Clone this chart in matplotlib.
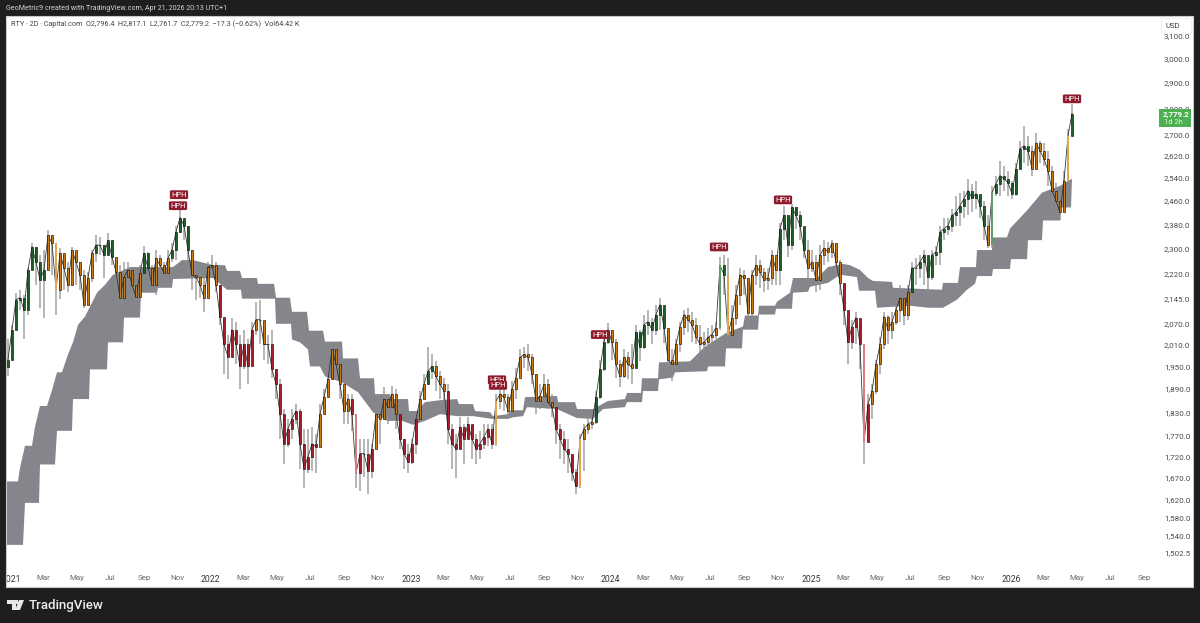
import matplotlib
matplotlib.use("Agg")
import matplotlib.pyplot as plt
from matplotlib.patches import Rectangle, FancyBboxPatch, Polygon
from matplotlib.ticker import NullLocator
import numpy as np
import pandas as pd

# one bar every 7.3 days or so
closes = [1970,2054,2142,2148,2112,2233,2306,2258,2202,2233,
          2344,2318,2172,2286,2239,2187,2296,2258,2218,2127,
          2208,2286,2312,2312,2280,2328,2274,2227,2148,2211,
          2233,2187,2151,2224,2286,2239,2187,2270,2248,2224,
          2270,2296,2354,2403,2376,2296,2218,2211,2187,2148,
          2242,2248,2187,2092,2012,1978,2054,2012,1951,2012,
          1951,2054,2083,2083,2012,2012,1943,1903,1825,1751,
          1788,1813,1833,1751,1691,1720,1751,1744,1825,1869,
          1916,1998,1957,1903,1833,1864,1825,1680,1727,1727,
          1686,1739,1825,1813,1864,1843,1877,1825,1763,1727,
          1708,1751,1813,1864,1903,1938,1951,1924,1903,1885,
          1788,1751,1739,1793,1763,1800,1763,1739,1751,1768,
          1788,1751,1859,1877,1869,1833,1890,1921,1976,1984,
          1976,1930,1859,1872,1903,1856,1843,1788,1763,1739,
          1727,1684,1650,1763,1788,1800,1805,1869,1943,2020,
          2054,2018,1957,1924,1976,1957,1948,2048,2006,2068,
          2077,2054,2098,2127,2060,1970,1957,2012,2063,2098,
          2083,2068,2034,2012,2018,2032,2040,2060,2248,2218,
          2040,2089,2157,2218,2208,2103,2218,2248,2227,2202,
          2208,2280,2233,2366,2410,2312,2437,2410,2376,2296,
          2239,2258,2202,2280,2302,2290,2318,2258,2193,2112,
          2018,2063,2089,2012,1756,1851,1885,1957,2012,2092,
          2054,2077,2112,2148,2098,2166,2239,2239,2258,2280,
          2211,2280,2290,2354,2366,2376,2410,2420,2443,2467,
          2495,2470,2484,2443,2376,2312,2488,2520,2548,2537,
          2523,2484,2573,2645,2656,2638,2573,2667,2638,2609,
          2566,2495,2460,2420,2530,2694,2779.2]
highs = [2026,2068,2162,2172,2157,2239,2319,2306,2280,2296,
         2363,2344,2280,2302,2280,2258,2306,2280,2258,2233,
         2227,2296,2344,2337,2312,2350,2328,2270,2248,2258,
         2258,2242,2233,2248,2309,2290,2248,2296,2280,2258,
         2296,2318,2376,2433,2396,2376,2296,2248,2233,2208,
         2258,2280,2258,2187,2083,2040,2089,2077,2040,2054,
         2026,2077,2136,2142,2068,2040,2054,1943,1916,1838,
         1813,1838,1851,1838,1788,1788,1793,1775,1851,1890,
         1943,2020,2020,1957,1890,1877,1877,1800,1763,1763,
         1763,1751,1851,1838,1895,1877,1898,1890,1813,1763,
         1751,1763,1833,1885,1930,2004,1984,1965,1938,1921,
         1903,1800,1775,1817,1800,1817,1793,1775,1783,1800,
         1800,1800,1877,1895,1895,1877,1911,1948,1998,2004,
         2012,1984,1930,1903,1930,1916,1877,1838,1800,1783,
         1763,1727,1691,1775,1800,1817,1833,1885,1970,2040,
         2074,2054,2026,1970,1998,1992,2012,2068,2054,2098,
         2112,2089,2127,2148,2112,2054,1998,2026,2077,2112,
         2118,2106,2089,2068,2048,2060,2068,2077,2274,2280,
         2270,2127,2187,2239,2233,2208,2233,2280,2264,2239,
         2239,2296,2258,2386,2443,2410,2450,2437,2426,2360,
         2328,2296,2280,2312,2328,2322,2328,2312,2264,2187,
         2098,2083,2106,2068,1951,1877,1903,1970,2032,2106,
         2098,2106,2142,2187,2148,2187,2258,2270,2280,2296,
         2258,2296,2309,2376,2400,2400,2433,2477,2488,2495,
         2537,2520,2530,2477,2460,2410,2512,2548,2602,2584,
         2566,2530,2595,2675,2733,2694,2656,2705,2675,2667,
         2638,2584,2523,2495,2566,2720,2817.1]
lows = [1924,2012,2089,2112,2026,2098,2248,2187,2118,2089,
        2233,2218,2098,2145,2172,2166,2218,2187,2172,2118,
        2196,2196,2258,2280,2208,2280,2248,2172,2112,2172,
        2187,2157,2112,2187,2233,2208,2172,2157,2208,2187,
        2218,2258,2264,2350,2328,2218,2172,2142,2148,2106,
        2157,2208,2166,2068,1930,1916,2004,1957,1890,1943,
        1903,1998,2040,2012,1970,1957,1921,1864,1763,1703,
        1744,1763,1800,1691,1645,1680,1686,1680,1775,1838,
        1877,1930,1916,1864,1800,1800,1783,1645,1640,1672,
        1633,1668,1763,1751,1813,1800,1817,1788,1739,1691,
        1680,1703,1727,1825,1864,1903,1916,1885,1864,1851,
        1751,1691,1668,1739,1703,1763,1715,1703,1715,1739,
        1746,1739,1746,1838,1833,1813,1825,1864,1930,1948,
        1938,1903,1825,1838,1851,1838,1817,1751,1715,1703,
        1680,1663,1633,1645,1686,1775,1788,1800,1864,1938,
        2012,1970,1921,1895,1921,1916,1903,1984,1965,1998,
        2040,2012,2040,2054,2015,1938,1911,1943,1992,2040,
        2048,2020,2012,1992,1976,1998,2012,2026,2054,2157,
        2012,2020,2068,2127,2157,2060,2083,2187,2178,2166,
        2172,2187,2187,2187,2328,2274,2296,2366,2328,2270,
        2187,2227,2166,2172,2248,2258,2270,2218,2157,2068,
        1957,1998,2012,1943,1703,1763,1813,1877,1930,1998,
        2012,2026,2068,2077,2068,2083,2142,2187,2208,2187,
        2142,2202,2248,2248,2328,2344,2354,2376,2376,2400,
        2410,2420,2433,2400,2328,2302,2302,2477,2477,2495,
        2477,2467,2477,2584,2595,2584,2548,2584,2595,2584,
        2512,2420,2410,2393,2420,2584,2761.7]
first_open = 1950

# colour regime of the bars, as (code, how many bars)
regimes = [("g",10),("o",12),("g",5),("o",7),("g",2),("o",5),("g",5),("o",7),("r",9),("o",3),
           ("r",13),("o",8),("r",6),("o",6),("r",5),("o",2),("g",2),("o",3),("r",12),("o",15),
           ("r",6),("o",4),("g",4),("o",6),("g",8),("o",13),("g",2),("o",13),("g",7),("o",9),
           ("r",7),("o",10),("g",19),("o",1),("g",10),("o",10),("g",1)]

# cloud edges: bar number, price
upper_bar = [-0.5,2.5,3,4.25,6,6.75,8,9.75,11,12.25,13.5,15,16.25,17.5,19.25,22.25,24.25,26.25,30.5,41.25,
             43.5,46.25,51.25,54.25,54.75,58,58.5,62.25,62.5,66.5,67,70.5,71,74.75,75.25,78.75,79.25,83.5,83.75,87.5,
             88,91.5,91.75,95.5,96,100,100.25,102.25,104.25,108,112.25,112.75,116.25,116.75,120.5,121.25,125,125.75,128.75,129.25,
             137.25,137.5,141.75,142.25,146.25,150,154.25,154.75,158.25,158.5,162.5,162.75,170.5,174.25,179.75,183.75,184.25,187.5,187.75,191.75,
             192.25,195.5,196.25,202.25,205,208.75,210.5,213,215,216.25,221,221.25,233.5,233.75,237.5,238,242,242.25,246,246.25,
             249.75,250.5,254.75,258.5,263,266]
upper_price = [1661,1661,1693,1746,1746,1793,1846,1846,1887,1935,1935,1984,2018,2068,2092,2163,2187,2218,2242,2242,
               2264,2264,2248,2248,2230,2230,2208,2208,2190,2190,2148,2148,2106,2106,2051,2051,2020,2020,1973,1973,
               1919,1919,1877,1877,1864,1864,1833,1833,1856,1861,1864,1851,1851,1833,1830,1820,1825,1835,1835,1869,
               1872,1856,1856,1838,1838,1859,1864,1880,1880,1919,1919,1962,1965,2006,2046,2063,2095,2095,2124,2124,
               2136,2163,2208,2208,2242,2252,2248,2233,2208,2199,2196,2178,2172,2193,2193,2242,2242,2296,2296,2337,
               2337,2366,2427,2488,2512,2537]
lower_bar = [-0.5,-0.25,3.75,4.25,7.75,8,11.75,12.25,16,16.25,20.25,20.5,24.75,25,28.75,29,33,33.25,37.25,37.5,
             41,41.25,51.25,54.75,58.25,58.5,66.75,67,70.75,71,73,75,75.5,78,79.25,83.5,87.5,91.25,94.75,98.5,
             101.25,104.25,108,112.25,116.25,121,125,126.25,128.75,129.75,137.25,142.25,146.25,148.75,154.25,154.75,158.5,158.75,162.5,162.75,
             166.25,166.75,174.75,175,179.25,179.5,183.5,183.75,187.5,187.75,191.75,192,196,196.25,200,200.5,205,208,212.25,212.75,
             216.75,217.25,225.5,230,233.75,237.25,239.75,241.75,242.25,246,246.25,250.5,250.75,254.75,255,258.5,258.75,263,263.25,265.75,266]
lower_price = [1473,1520,1520,1612,1612,1701,1701,1783,1783,1864,1864,1943,1943,2018,2018,2089,2089,2163,2163,2178,
               2178,2205,2208,2172,2172,2145,2145,2071,2071,2026,2018,1998,1951,1951,1924,1908,1882,1830,1808,1808,
               1798,1808,1825,1820,1820,1813,1813,1817,1820,1843,1838,1815,1813,1838,1843,1856,1856,1885,1885,1916,
               1921,1935,1938,1951,1951,2001,2001,2054,2054,2098,2098,2115,2115,2163,2166,2181,2193,2218,2211,2169,
               2169,2118,2124,2118,2118,2142,2172,2190,2214,2214,2236,2236,2267,2267,2328,2328,2393,2393,2437,2437,2537]

price_ticks = [3100,3000,2900,2800,2700,2620,2540,2460,2380,2300,2220,2145,2070,2010,1950,1890,1830,1770,1720,1670,1620,1580,1540,1502.5]
month_labels = ["2021","Mar","May","Jul","Sep","Nov","2022","Mar","May","Jul","Sep","Nov",
                "2023","Mar","May","Jul","Sep","Nov","2024","Mar","May","Jul","Sep","Nov",
                "2025","Mar","May","Jul","Sep","Nov","2026","Mar","May","Jul","Sep"]
hph_bar = [42.75,42.5,148,122.25,122.5,177.75,193.75,266]
hph_price = [2481,2443,2040,1915,1900,2306,2463,2837]

W, H = 1200, 623
plt.rcParams["font.family"] = ["Roboto", "DejaVu Sans"]

def fx(px):
    return px / W

def fy(py):
    return 1 - py / H

fig = plt.figure(figsize=(12, 6.23), dpi=100, facecolor="#1e1e1e")
ax = fig.add_axes([fx(6), fy(587), fx(1193) - fx(6), fy(16) - fy(587)], facecolor="white")

closes = np.array(closes)
highs = np.array(highs)
lows = np.array(lows)
opens = np.r_[first_open, closes[:-1]]
bars = np.arange(len(closes))
codes = [c for c, n in regimes for _ in range(n)]

dark = {"g": "#1f5e2b", "o": "#c97a12", "r": "#a51f2d"}
light = {"g": "#5f9c68", "o": "#e3a64e", "r": "#dc7a82"}

ax.fill(np.r_[upper_bar, lower_bar[::-1]], np.r_[upper_price, lower_price[::-1]],
        color="#85868c", lw=0, zorder=1)

ax.vlines(bars, lows, highs, color="#8c8c8c", lw=1.2, alpha=0.75, zorder=2)
# thin dark trace through the closes, the bars run together like this on the original
ax.plot(bars, closes, color="#2a2a2a", lw=0.55, zorder=2.5)
for i in bars:
    lo = min(opens[i], closes[i])
    size = abs(closes[i] - opens[i])
    if size / lo > 0.06:
        # long bars read as a thin coloured line on the original
        ax.bar(i, size, bottom=lo, width=0.4, color=light[codes[i]], lw=0, zorder=3)
    else:
        ax.bar(i, size, bottom=lo, width=0.55, color=dark[codes[i]], edgecolor="#111111", lw=0.45, zorder=3)

for b, p in zip(hph_bar, hph_price):
    ax.text(b, p, "HPH", color="white", fontsize=5.5, ha="center", va="center", zorder=4,
            bbox=dict(boxstyle="round,pad=0.18", fc="#8e1b2b", ec="none"))

ax.set_yscale("log")
ax.set_ylim(1433, 3185.6)
ax.set_xlim(-0.5, 296.25)
ax.yaxis.set_minor_locator(NullLocator())
ax.yaxis.tick_right()
ax.set_yticks(price_ticks)
ax.set_yticklabels([f"{p:,.1f}" for p in price_ticks])
ax.tick_params(axis="y", which="both", length=0, pad=-21, labelsize=5.8, labelcolor="#4a4a4a")

# month ticks sit by calendar, a bar being 7.3 days
month_dates = pd.date_range("2021-01-01", periods=len(month_labels), freq="2MS")
month_pos = 0.7 + (month_dates - month_dates[0]).days / 7.3
ax.set_xticks(month_pos)
ax.set_xticklabels(month_labels)
ax.tick_params(axis="x", length=0, pad=-8.5, labelsize=5.8, labelcolor="#6a6a6a")
for lab in ax.get_xticklabels():
    lab.set_clip_on(True)
    lab.set_clip_box(ax.bbox)
    if lab.get_text().isdigit():
        lab.set_color("#333333")
        lab.set_fontsize(6.2)

for name, sp in ax.spines.items():
    sp.set_color("#c8c8c8")
    sp.set_linewidth(0.8)

# top bar and legend line
fig.text(fx(6), fy(8.5), "GeoMetric9 created with TradingView.com, Apr 21, 2026 20:13 UTC+1",
         color="#d4d4d4", fontsize=5.1, va="center", ha="left")
fig.text(fx(10.5), fy(24.5), "RTY · 2D · Capital.com  O2,796.4  H2,817.1  L2,761.7  C2,779.2  −17.3 (−0.62%)  Vol64.42 K",
         color="#444444", fontsize=5.2, va="center", ha="left", zorder=6)

# USD button
fig.add_artist(FancyBboxPatch((fx(1162), fy(33)), fx(29), fy(19) - fy(33), boxstyle="round,pad=0.0005",
                              fc="white", ec="#eeeeee", lw=0.6, zorder=5, transform=fig.transFigure))
fig.text(fx(1173), fy(26), "USD", color="#444444", fontsize=5.6, ha="center", va="center", zorder=6)

# last price tag
fig.add_artist(Rectangle((fx(1159), fy(127)), fx(32), fy(109) - fy(127), fc="#4caf50", ec="none",
                         zorder=5, transform=fig.transFigure))
fig.text(fx(1176), fy(114.5), "2,779.2", color="white", fontsize=5.7, fontweight="bold", ha="center", va="center", zorder=6)
fig.text(fx(1173), fy(122), "1d 2h", color="#e3f3e3", fontsize=5.4, ha="center", va="center", zorder=6)

# TradingView mark
logo = "#e8e8e8"
fig.add_artist(Polygon([(fx(7), fy(600)), (fx(15.5), fy(600)), (fx(15.5), fy(610)), (fx(11.5), fy(610)),
                        (fx(11.5), fy(604)), (fx(7), fy(604))], fc=logo, ec="none", transform=fig.transFigure))
fig.add_artist(Polygon([(fx(19), fy(600)), (fx(24), fy(600)), (fx(20), fy(610)), (fx(15), fy(610))],
                       fc=logo, ec="none", transform=fig.transFigure))
fig.add_artist(Rectangle((fx(15.5), fy(603.5)), fx(2.8), fy(600) - fy(603.5), fc=logo, ec="none", transform=fig.transFigure))
fig.text(fx(29), fy(605.5), "TradingView", color="#ececec", fontsize=9.6, fontweight="medium", va="center", ha="left")

fig.savefig("out.png", dpi=100, facecolor=fig.get_facecolor())
